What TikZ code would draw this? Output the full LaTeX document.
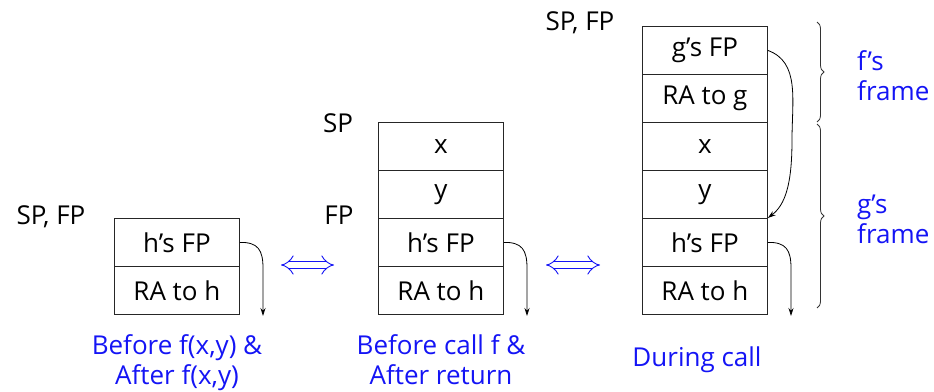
\documentclass[tikz,border=0pt]{standalone}
\usepackage{fontspec}
\setmainfont{Open Sans}
\usetikzlibrary{arrows.meta,decorations.pathreplacing}
\definecolor{tblue}{RGB}{20,20,245}
\tikzset{
  cell/.style={draw=black!85, line width=0.8pt, minimum width=125pt, minimum height=48pt, inner sep=0pt, anchor=north west, font=\fontsize{26}{28}\selectfont},
  lbl/.style={font=\fontsize{26}{28}\selectfont, inner sep=0pt},
  blbl/.style={font=\fontsize{26}{30}\selectfont, text=tblue, inner sep=0pt, align=center},
  ptr/.style={line width=0.8pt, -{Stealth[length=8pt,width=5pt]}},
  dblarrow/.style={draw=tblue, line width=0.9pt, double distance=6pt, {Implies[length=6pt]}-{Implies[length=6pt]}},
  brc/.style={decorate, decoration={brace, amplitude=7pt}, line width=0.8pt, draw=black!80}
}
\begin{document}
\begin{tikzpicture}[x=1pt,y=-1pt]
\useasboundingbox (0,0) rectangle (934,391);
% left stack
\node[cell] (l1) at (114,218) {h’s FP};
\node[cell] (l2) at (114,266) {RA to h};
\node[lbl] (lsp) at (51,217) {SP, FP};
\coordinate (le) at (263,316);
\draw[ptr] (l1.east) .. controls (258,242) and (263,250) .. (263,268) -- (le);
\node[blbl] (lcap) at (177,363) {Before f(x,y) \&\\After f(x,y)};
% middle stack
\node[cell] (m1) at (378,122) {x};
\node[cell] (m2) at (378,170) {y};
\node[cell] (m3) at (378,218) {h’s FP};
\node[cell] (m4) at (378,266) {RA to h};
\node[lbl] (msp) at (338,123) {SP};
\node[lbl] (mfp) at (339,215) {FP};
\coordinate (me) at (527,316);
\draw[ptr] (m3.east) .. controls (522,242) and (527,250) .. (527,268) -- (me);
\node[blbl] (mcap) at (441,360) {Before call f \&\\After return};
% right stack
\node[cell] (r1) at (642,26) {g’s FP};
\node[cell] (r2) at (642,74) {RA to g};
\node[cell] (r3) at (642,122) {x};
\node[cell] (r4) at (642,170) {y};
\node[cell] (r5) at (642,218) {h’s FP};
\node[cell] (r6) at (642,266) {RA to h};
\node[lbl] (rsp) at (580,23) {SP, FP};
\coordinate (re) at (791,316);
\draw[ptr] (r5.east) .. controls (786,242) and (791,250) .. (791,268) -- (re);
\draw[ptr] (r1.east) .. controls (800,62) and (792,100) .. (792,140) .. controls (792,185) and (785,205) .. (r5.north east);
\node[blbl] (rcap) at (697,360) {During call};
% double arrows
\coordinate (d1w) at (281,265);
\coordinate (d1e) at (334,265);
\coordinate (d2w) at (546,265);
\coordinate (d2e) at (600,265);
\draw[dblarrow] (d1w) -- (d1e);
\draw[dblarrow] (d2w) -- (d2e);
% braces
\coordinate (b1t) at (817,22);
\coordinate (b1b) at (817,122);
\coordinate (b2t) at (817,124);
\coordinate (b2b) at (817,308);
\draw[brc] (b1t) -- (b1b);
\draw[brc] (b2t) -- (b2b);
\node[blbl, align=left, anchor=west] (fframe) at (857,76) {f’s\\frame};
\node[blbl, align=left, anchor=west] (gframe) at (857,219) {g’s\\frame};
\end{tikzpicture}
\end{document}
